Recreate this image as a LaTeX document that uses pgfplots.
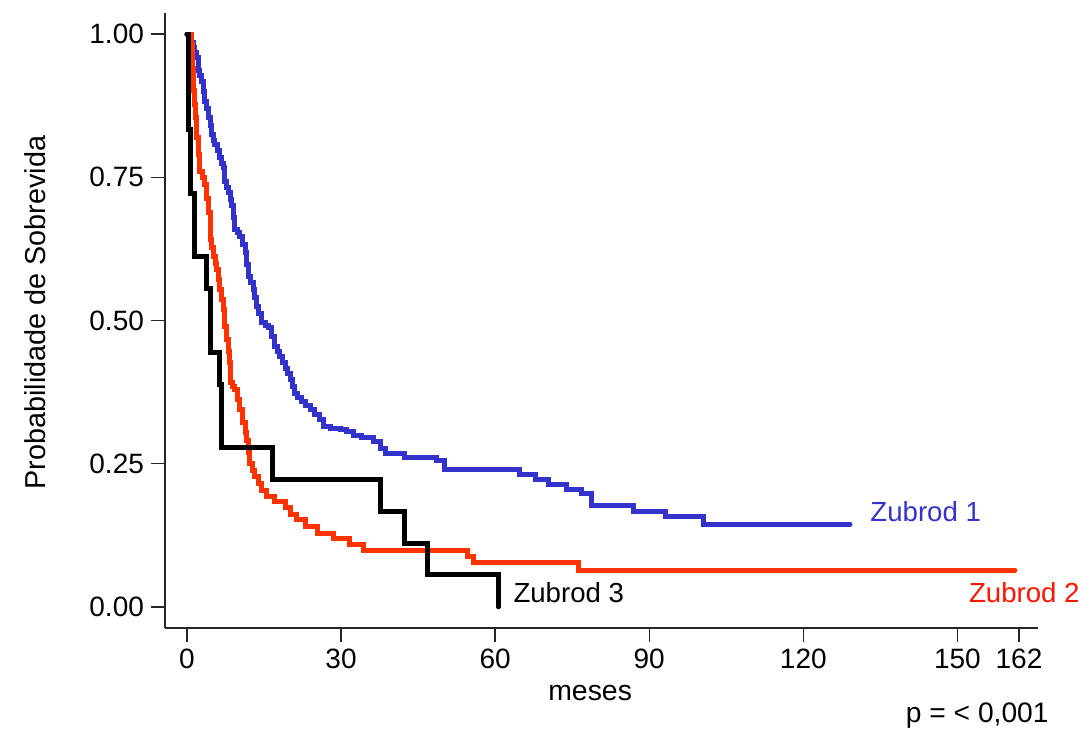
\documentclass[border=0pt]{standalone}
\usepackage{pgfplots}
\pgfplotsset{compat=1.18}
\usepackage{fontspec}
\setmainfont{Liberation Sans}

\definecolor{zblue}{RGB}{51,51,204}
\definecolor{zred}{RGB}{255,51,0}
\definecolor{zredtext}{RGB}{255,20,0}

% Kaplan-Meier estimates (time in months, survival probability)
\pgfplotstableread{
t s
0    1.000
0.6  0.995
0.9  0.985
1.2  0.977
1.5  0.968
1.9  0.959
2.2  0.936
2.5  0.928
2.9  0.918
3.2  0.900
3.5  0.883
3.8  0.870
4.15 0.854
4.5  0.840
4.8  0.825
5.1  0.815
5.45 0.808
5.9  0.796
6.4  0.784
6.8  0.775
7.1  0.767
7.4  0.743
7.7  0.733
8.0  0.723
8.4  0.712
8.7  0.700
9.0  0.680
9.35 0.659
9.8  0.653
10.3 0.647
10.8 0.632
11.3 0.618
11.6 0.598
11.9 0.577
12.4 0.566
12.9 0.554
13.2 0.540
13.6 0.525
14.0 0.512
14.5 0.496
15.2 0.492
15.8 0.487
16.5 0.472
17.1 0.455
17.6 0.446
18.1 0.437
18.6 0.427
19.1 0.417
19.6 0.407
20.1 0.397
20.5 0.385
21.0 0.373
21.6 0.366
22.3 0.359
23.1 0.352
24.0 0.344
24.9 0.336
25.9 0.327
26.5 0.315
28.0 0.312
29.8 0.309
31.1 0.306
32.4 0.300
34.0 0.295
36.3 0.289
37.6 0.277
38.6 0.268
42.4 0.260
48.6 0.256
50.2 0.240
64.8 0.231
67.8 0.223
70.3 0.214
73.9 0.205
76.9 0.198
78.8 0.177
86.9 0.166
93.1 0.157
100.5 0.144
129.1 0.144
}\zubrodA

\pgfplotstableread{
t s
0    1.000
0.9  0.982
1.0  0.940
1.2  0.901
1.4  0.878
1.6  0.854
1.9  0.819
2.2  0.790
2.5  0.761
3.0  0.750
3.4  0.738
3.8  0.713
4.1  0.688
4.5  0.641
4.8  0.627
5.1  0.612
5.5  0.600
5.8  0.589
6.1  0.572
6.4  0.554
6.8  0.536
7.1  0.519
7.4  0.490
7.7  0.466
8.0  0.446
8.2  0.426
8.4  0.391
8.9  0.385
9.35 0.379
9.8  0.362
10.3 0.345
10.9 0.321
11.3 0.305
11.6 0.290
11.9 0.270
12.2 0.250
12.7 0.238
13.2 0.227
13.9 0.215
14.6 0.203
15.5 0.192
17.1 0.184
19.1 0.173
20.2 0.162
21.4 0.152
23.0 0.140
25.5 0.128
28.5 0.120
31.7 0.108
34.3 0.098
54.7 0.0875
55.7 0.077
76.2 0.064
161.2 0.064
}\zubrodB

\pgfplotstableread{
t s
0    1.000
0.2  0.833
0.6  0.722
1.5  0.611
3.8  0.556
4.5  0.444
6.4  0.389
6.8  0.278
16.7 0.222
37.7 0.167
42.3 0.111
46.9 0.056
60.6 0.000
}\zubrodC

\begin{document}
\begin{tikzpicture}
\path[use as bounding box] (-82.5pt,-51.5pt) rectangle (463.5pt,314pt);
\begin{axis}[
  scale only axis,
  width=436.5pt, height=307.5pt,
  xmin=-4.28, xmax=165.7,
  ymin=-0.037, ymax=1.037,
  axis x line=bottom, axis y line=left,
  axis line style={-, line width=0.8pt, black!85},
  tick align=outside,
  major tick length=7pt,
  tick style={line width=0.7pt, black!85},
  xtick={0,30,60,90,120,150,162},
  xticklabels={0,30,60,90,120,150,162},
  ytick={0,0.25,0.5,0.75,1},
  yticklabels={0.00,0.25,0.50,0.75,1.00},
  ticklabel style={font=\fontsize{14}{16}\selectfont},
  clip=false,
]
\addplot[const plot, color=zblue, line width=2.5pt, line cap=round] table[x=t,y=s] {\zubrodA};
\addplot[const plot, color=zred, line width=2.5pt, line cap=round] table[x=t,y=s] {\zubrodB};
\addplot[const plot, color=black, line width=2.5pt, line cap=round] table[x=t,y=s] {\zubrodC};

\node[anchor=west, text=zblue, font=\fontsize{13.8}{16}\selectfont, inner sep=0pt] at (axis cs:133,0.167) {Zubrod 1};
\node[anchor=west, text=zredtext, font=\fontsize{13.8}{16}\selectfont, inner sep=0pt] at (axis cs:152.2,0.024) {Zubrod 2};
\node[anchor=west, text=black, font=\fontsize{13.8}{16}\selectfont, inner sep=0pt] at (axis cs:63.5,0.024) {Zubrod 3};

\node[rotate=90, anchor=center, font=\fontsize{14.4}{16}\selectfont] at (axis description cs:-0.149,0.513) {Probabilidade de Sobrevida};
\node[anchor=center, font=\fontsize{14.2}{16}\selectfont] at (axis description cs:0.487,-0.106) {meses};
\node[anchor=east, inner sep=0pt, font=\fontsize{14.1}{16}\selectfont] at (axis description cs:1.0126,-0.143) {p = < 0,001};
\end{axis}
\end{tikzpicture}
\end{document}
